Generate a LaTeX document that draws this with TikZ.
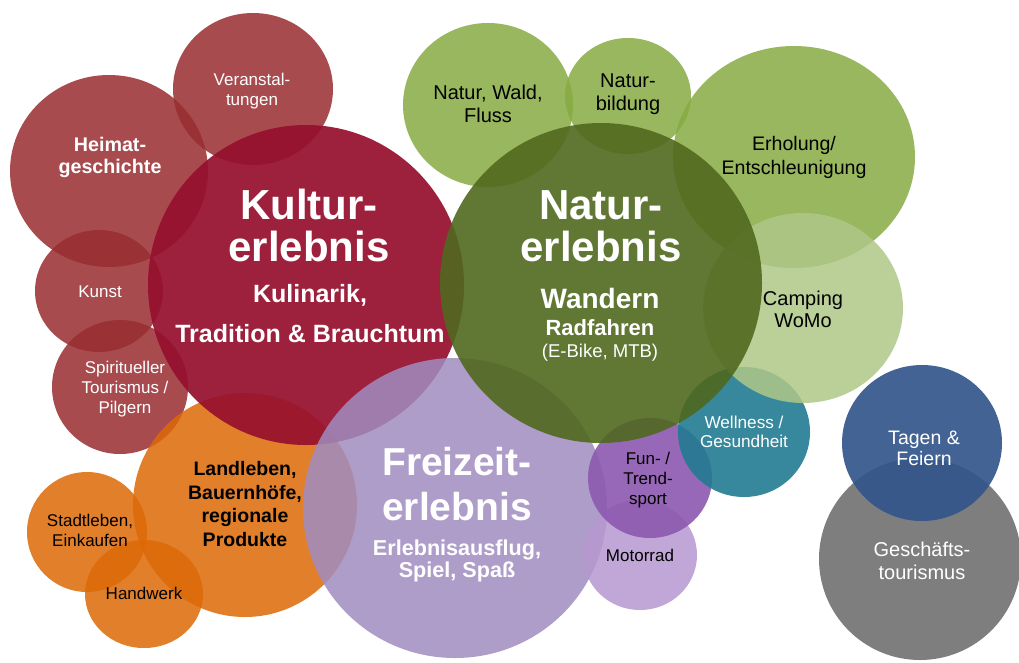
\documentclass[tikz,border=0pt]{standalone}
\usepackage{fontspec}
\setmainfont{Liberation Sans}

% colours of the bubbles
\definecolor{kulturrot}{RGB}{150,16,46}
\definecolor{altrot}{RGB}{152,44,48}
\definecolor{orange1}{RGB}{220,104,6}
\definecolor{lila}{RGB}{160,140,192}
\definecolor{lilahell}{RGB}{182,152,208}
\definecolor{violett}{RGB}{140,88,175}
\definecolor{waldgruen}{RGB}{80,105,30}
\definecolor{gruen}{RGB}{134,170,66}
\definecolor{gruenhell}{RGB}{175,199,135}
\definecolor{petrol}{RGB}{33,123,146}
\definecolor{blau}{RGB}{50,86,138}
\definecolor{grau}{RGB}{112,112,112}

\begin{document}
\begin{tikzpicture}[x=1pt,y=-1pt,
  bubble/.style={fill=#1,fill opacity=0.85,draw=none},
  lbl/.style={align=center,inner sep=0pt,text=white,font=\fontsize{17}{20}\selectfont},
  title/.style={align=center,inner sep=0pt,text=white,font=\fontsize{42}{42}\selectfont\bfseries}]

\useasboundingbox (0,0) rectangle (1019,662);

% Kultur side (red and orange)
\fill[bubble=altrot] (109,171) ellipse [x radius=99pt, y radius=96pt];
\fill[bubble=altrot] (253,89) ellipse [x radius=80pt, y radius=76pt];
\fill[bubble=altrot] (99,291) ellipse [x radius=64pt, y radius=61pt];
\fill[bubble=altrot] (120,387) ellipse [x radius=68pt, y radius=67pt];
\fill[bubble=orange1] (87,532) circle (60pt);
\fill[bubble=orange1] (144,594) ellipse [x radius=59pt, y radius=54pt];
\fill[bubble=orange1] (245,505) circle (112pt);
\fill[bubble=kulturrot,fill opacity=0.93] (306,285) ellipse [x radius=158pt, y radius=160pt];

% Freizeit (purple)
\fill[bubble=lila] (455,508) ellipse [x radius=152pt, y radius=150pt];
\fill[bubble=lilahell] (640,555) ellipse [x radius=57pt, y radius=55pt];
\fill[bubble=violett,fill opacity=0.9] (650,478) ellipse [x radius=62pt, y radius=60pt];

% Natur (greens)
\fill[bubble=petrol,fill opacity=0.9] (744,432) ellipse [x radius=66pt, y radius=65pt];
\fill[bubble=gruen] (794,157) ellipse [x radius=121pt, y radius=111pt];
\fill[bubble=gruenhell] (803,308) ellipse [x radius=100pt, y radius=95pt];
\fill[bubble=gruen] (488,105) ellipse [x radius=85pt, y radius=82pt];
\fill[bubble=gruen] (628,96) ellipse [x radius=63pt, y radius=58pt];
\fill[bubble=waldgruen,fill opacity=0.9] (601,283) ellipse [x radius=161pt, y radius=160pt];

% Business
\fill[bubble=grau,fill opacity=0.9] (920,559) circle (101pt);
\fill[bubble=blau,fill opacity=0.92] (922,443) ellipse [x radius=80pt, y radius=78pt];

% Labels
\node[title] (kultur) at (309,225) {Kultur-\\erlebnis};
\node[lbl,font=\fontsize{25}{40}\selectfont\bfseries] (kulturSub) at (310,314) {Kulinarik,\\Tradition \& Brauchtum};
\node[lbl,font=\fontsize{19.7}{22}\selectfont\bfseries] (heimat) at (110,157) {Heimat-\\geschichte};
\node[lbl] (verans) at (252,91) {Veranstal-\\tungen};
\node[lbl,anchor=base] (kunst) at (100,297) {Kunst};
\node[lbl] (pilgern) at (125,389) {Spiritueller\\Tourismus /\\Pilgern};
\node[lbl,text=black,font=\fontsize{19.5}{23.5}\selectfont\bfseries] (land) at (245,504) {Landleben,\\Bauernhöfe,\\regionale\\Produkte};
\node[lbl,text=black] (stadt) at (90,530) {Stadtleben,\\Einkaufen};
\node[lbl,text=black,anchor=base] (handwerk) at (144,599) {Handwerk};

\node[title,font=\fontsize{39}{45}\selectfont\bfseries] (freizeit) at (457,484) {Freizeit-\\erlebnis};
\node[lbl,font=\fontsize{21.6}{22}\selectfont\bfseries] (freizeitSub) at (457,561) {Erlebnisausflug,\\Spiel, Spaß};
\node[lbl,text=black] (fun) at (648,480) {Fun- /\\Trend-\\sport};
\node[lbl,text=black,anchor=base] (motorrad) at (640,561) {Motorrad};

\node[title] (natur) at (601,226) {Natur-\\erlebnis};
\node[lbl,anchor=base,font=\fontsize{28}{30}\selectfont\bfseries] (wandern) at (600,308) {Wandern};
\node[lbl,anchor=base,font=\fontsize{22}{24}\selectfont\bfseries] (rad) at (600,335) {Radfahren};
\node[lbl,anchor=base,font=\fontsize{18.5}{20}\selectfont] (ebike) at (600,357) {(E-Bike, MTB)};
\node[lbl,text=black,font=\fontsize{20}{23}\selectfont] (wald) at (488,104) {Natur, Wald,\\Fluss};
\node[lbl,text=black,font=\fontsize{20}{23}\selectfont] (bildung) at (628,94) {Natur-\\bildung};
\node[lbl,text=black,font=\fontsize{19.6}{24}\selectfont] (erholung) at (794,157) {Erholung/\\Entschleunigung};
\node[lbl,text=black,font=\fontsize{20}{22}\selectfont] (camping) at (803,309) {Camping\\WoMo};
\node[lbl,font=\fontsize{17.2}{19}\selectfont] (wellness) at (744,432) {Wellness /\\Gesundheit};

\node[lbl,font=\fontsize{19.5}{21}\selectfont] (tagen) at (924,448) {Tagen \&\\Feiern};
\node[lbl,font=\fontsize{20}{23}\selectfont] (geschaeft) at (922,561) {Geschäfts-\\tourismus};

\end{tikzpicture}
\end{document}
